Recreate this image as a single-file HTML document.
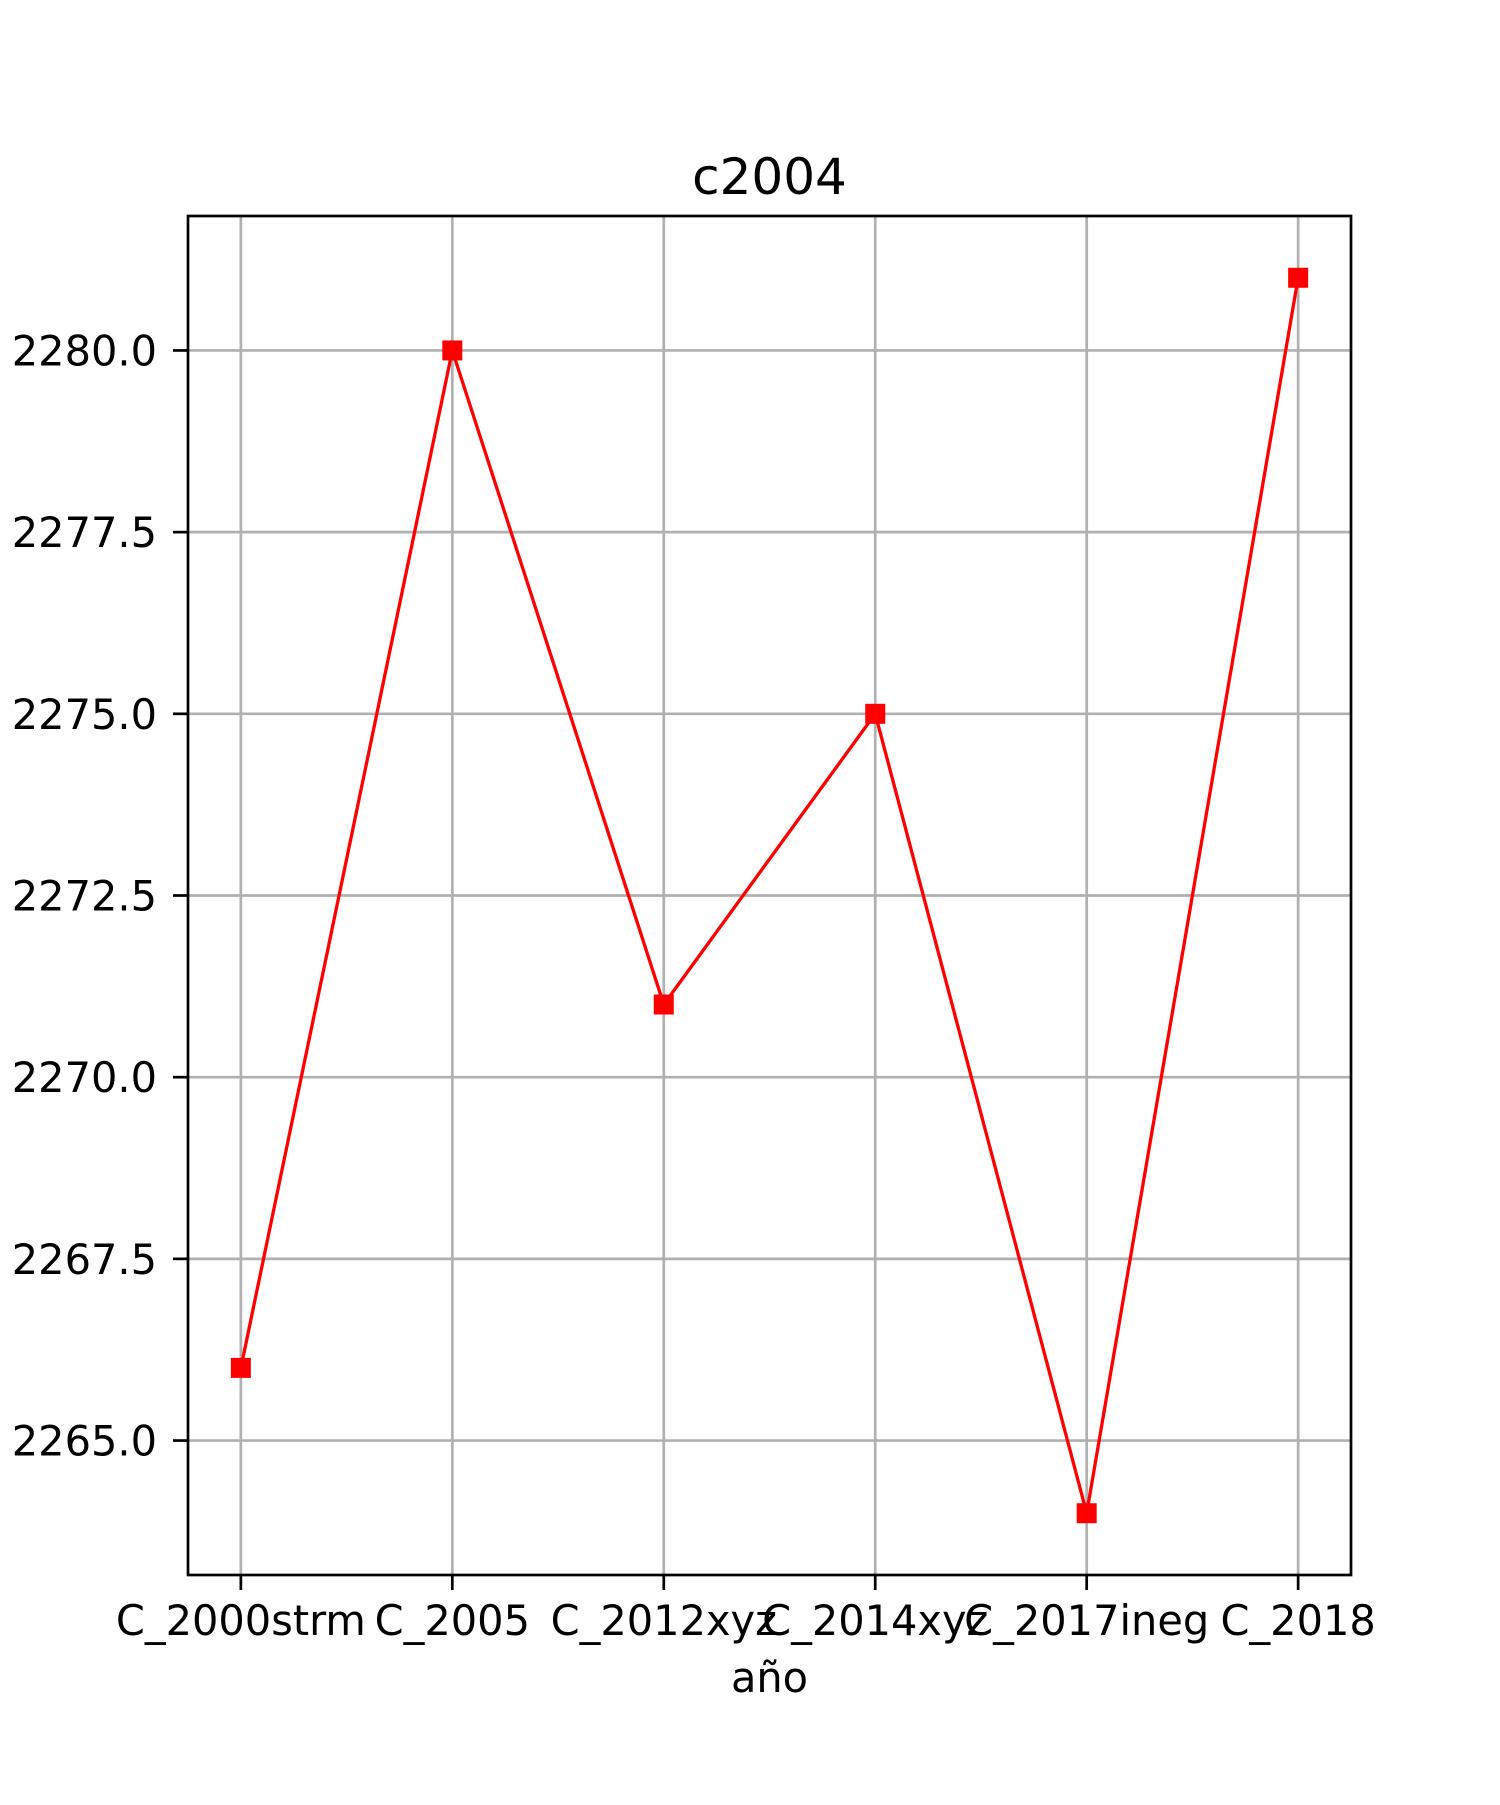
<!DOCTYPE html>
<html><head><meta charset="utf-8"><style>
html,body{margin:0;padding:0;background:#fff;}
svg text{font-family:"DejaVu Sans","Liberation Sans",sans-serif;fill:#000;}
</style></head><body>
<svg id="chart" width="1500" height="1800" viewBox="0 0 1500 1800" xmlns="http://www.w3.org/2000/svg">
<rect width="1500" height="1800" fill="#fff"/>
<g id="grid"></g>
<g id="series"></g>
<g id="axes"></g>
</svg>
<script>
const categories = ["C_2000strm","C_2005","C_2012xyz","C_2014xyz","C_2017ineg","C_2018"];
const values = [2266, 2280, 2271, 2275, 2264, 2281];
const yTicks = [2265.0, 2267.5, 2270.0, 2272.5, 2275.0, 2277.5, 2280.0];
const yTickLabels = ["2265.0","2267.5","2270.0","2272.5","2275.0","2277.5","2280.0"];

const L=188,R=1351,T=216,B=1575;
const ns="http://www.w3.org/2000/svg";
const vmin=Math.min(...values), vmax=Math.max(...values), pad=(vmax-vmin)*0.05;
const y0=vmin-pad, y1=vmax+pad;
const xn=categories.length, xpad=0.25;
function xs(i){return L+(i+xpad)*(R-L)/(xn-1+2*xpad);}
function ys(v){return B-(v-y0)/(y1-y0)*(B-T);}
function mk(tag,attrs,parent){const e=document.createElementNS(ns,tag);for(const k in attrs)e.setAttribute(k,attrs[k]);parent.appendChild(e);return e;}
const grid=document.getElementById('grid'),series=document.getElementById('series'),axes=document.getElementById('axes');

categories.forEach((c,i)=>{
  const x=xs(i);
  const g=mk('line',{x1:x,x2:x,y1:T,y2:B,stroke:'#b0b0b0','stroke-width':2.7},grid);
  
  
  const t=mk('line',{x1:x,x2:x,y1:B,y2:B+15,stroke:'#000','stroke-width':2.7},axes);
  
  
  const lb=mk('text',{x:x,y:1635,'text-anchor':'middle','font-size':41.5},axes);
  lb.textContent=c;
  
  
});
yTicks.forEach((v,i)=>{
  const y=ys(v);
  const g=mk('line',{x1:L,x2:R,y1:y,y2:y,stroke:'#b0b0b0','stroke-width':2.7},grid);
  
  
  const t=mk('line',{x1:L-15,x2:L,y1:y,y2:y,stroke:'#000','stroke-width':2.7},axes);
  
  
  const lb=mk('text',{x:157,y:y+15,'text-anchor':'end','font-size':41.5},axes);
  lb.textContent=yTickLabels[i];
  
  
});
const pts=values.map((v,i)=>xs(i)+','+ys(v)).join(' ');
const pl=mk('polyline',{points:pts,fill:'none',stroke:'#ff0000','stroke-width':3.3},series);


values.forEach((v,i)=>{
  const m=mk('rect',{x:xs(i)-10,y:ys(v)-10,width:20,height:20,fill:'#ff0000'},series);
  
  
});
const frame=mk('rect',{x:L,y:T,width:R-L,height:B-T,fill:'none',stroke:'#000','stroke-width':2.7},axes);


const title=mk('text',{x:(L+R)/2,y:194,'text-anchor':'middle','font-size':50},axes);
title.textContent='c2004';


const xl=mk('text',{x:(L+R)/2,y:1692,'text-anchor':'middle','font-size':41.5},axes);
xl.textContent='año';


</script>
</body></html>
